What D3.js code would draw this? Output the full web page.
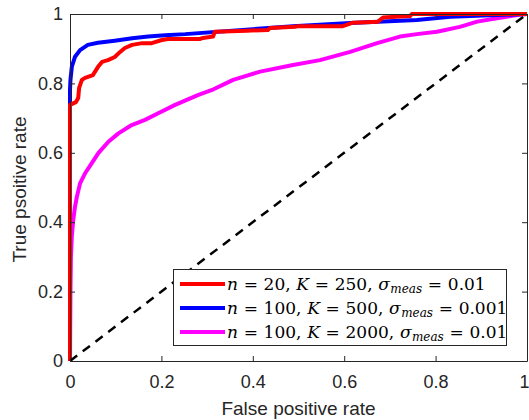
<!DOCTYPE html>
<html>
<head>
<meta charset="utf-8">
<script src="https://cdn.jsdelivr.net/npm/d3@7"></script>
<style>
body { margin: 0; background: #fff; }
text { font-family: "Liberation Sans", Arial, sans-serif; }
</style>
</head>
<body>
<script>
// ROC data: [false positive rate, true positive rate]
var redRoc = [[0,0],[0,0.738],[0.013,0.746],[0.018,0.758],[0.020,0.787],[0.026,0.81],[0.033,0.816],
  [0.050,0.824],[0.061,0.847],[0.070,0.862],[0.083,0.867],[0.098,0.876],[0.109,0.890],[0.120,0.902],
  [0.136,0.911],[0.158,0.916],[0.179,0.916],[0.186,0.919],[0.201,0.925],[0.214,0.928],[0.284,0.928],
  [0.291,0.931],[0.313,0.935],[0.317,0.949],[0.387,0.952],[0.433,0.954],[0.438,0.960],[0.492,0.963],
  [0.499,0.965],[0.597,0.965],[0.619,0.975],[0.674,0.978],[0.685,0.99],[0.744,0.994],[0.748,1],[1,1]];
var blueRoc = [[0,0],[0,0.781],[0.001,0.81],[0.004,0.848],[0.011,0.877],[0.022,0.896],[0.039,0.911],
  [0.061,0.917],[0.098,0.923],[0.136,0.930],[0.171,0.935],[0.208,0.939],[0.252,0.942],[0.488,0.965],
  [0.613,0.974],[0.759,0.983],[0.832,0.992],[1,1]];
var magentaRoc = [[0,0],[0.001,0.2],[0.002,0.3],[0.004,0.36],[0.007,0.406],[0.011,0.445],[0.015,0.473],
  [0.022,0.512],[0.033,0.541],[0.047,0.569],[0.062,0.599],[0.084,0.632],[0.106,0.656],[0.135,0.680],
  [0.164,0.695],[0.193,0.714],[0.230,0.738],[0.281,0.767],[0.314,0.783],[0.357,0.810],[0.416,0.834],
  [0.488,0.853],[0.547,0.867],[0.613,0.891],[0.672,0.916],[0.722,0.935],[0.759,0.942],[0.803,0.949],
  [0.853,0.963],[0.891,0.978],[0.934,0.988],[0.978,0.997],[1,1]];
var chance = [[0,0],[1,1]];

var tickValues = [0, 0.2, 0.4, 0.6, 0.8, 1];
var tickLabels = ['0', '0.2', '0.4', '0.6', '0.8', '1'];

// legend entries
var legendColors = ['#ff0000', '#0000ff', '#ff00ff'];
var legendN = ['20', '100', '100'];
var legendK = ['250', '500', '2000'];
var legendSigma = ['0.01', '0.001', '0.01'];

var W = 529, H = 420;
var svg = d3.select('body').append('svg').attr('width', W).attr('height', H);

// note: "top" is taken by window.top, so use other names
var axLeft = 70, axRight = 527, axTop = 14, axBottom = 361;
var x = d3.scaleLinear().domain([0, 1]).range([axLeft, axRight]);
var y = d3.scaleLinear().domain([0, 1]).range([axBottom, axTop]);

var axisColor = '#262626';

// curves
var line = d3.line().x(function(d){ return x(d[0]); }).y(function(d){ return y(d[1]); });
var plotArea = svg.append('g');
plotArea.append('path').datum(magentaRoc).attr('d', line)
  .attr('fill', 'none').attr('stroke', legendColors[2]).attr('stroke-width', 4).attr('stroke-linejoin', 'round');
plotArea.append('path').datum(blueRoc).attr('d', line)
  .attr('fill', 'none').attr('stroke', legendColors[1]).attr('stroke-width', 4).attr('stroke-linejoin', 'round');
plotArea.append('path').datum(redRoc).attr('d', line)
  .attr('fill', 'none').attr('stroke', legendColors[0]).attr('stroke-width', 4).attr('stroke-linejoin', 'round');
plotArea.append('path').datum(chance).attr('d', line)
  .attr('fill', 'none').attr('stroke', '#000').attr('stroke-width', 2.5).attr('stroke-dasharray', '9,7');

// box + axes (MATLAB style, ticks inside)
var fmt = function(d, i){ return tickLabels[i]; };
var xAxis = svg.append('g').attr('transform', 'translate(0,' + axBottom + ')')
  .call(d3.axisBottom(x).tickValues(tickValues).tickFormat(fmt).tickSizeInner(-5).tickSizeOuter(0).tickPadding(14));
var xAxisTop = svg.append('g').attr('transform', 'translate(0,' + axTop + ')')
  .call(d3.axisTop(x).tickValues(tickValues).tickFormat('').tickSizeInner(-5).tickSizeOuter(0));
var yAxis = svg.append('g').attr('transform', 'translate(' + axLeft + ',0)')
  .call(d3.axisLeft(y).tickValues(tickValues).tickFormat(fmt).tickSizeInner(-5).tickSizeOuter(0).tickPadding(7));
var yAxisRight = svg.append('g').attr('transform', 'translate(' + axRight + ',0)')
  .call(d3.axisRight(y).tickValues(tickValues).tickFormat('').tickSizeInner(-5).tickSizeOuter(0));

[xAxis, xAxisTop, yAxis, yAxisRight].forEach(function(g){
  g.select('.domain').attr('stroke', axisColor).attr('stroke-width', 1);
  g.selectAll('.tick line').attr('stroke', axisColor).attr('stroke-width', 1);
  g.selectAll('.tick text').attr('fill', axisColor).attr('font-size', 18)
    .style('font-family', '"Liberation Sans", Arial, sans-serif');
});
// last x label would fall off the page edge, keep it inside like the figure
xAxis.selectAll('.tick text').filter(function(d){ return d === 1; })
  .attr('text-anchor', 'end').attr('x', 2);

// axis titles
svg.append('text').attr('x', (axLeft + axRight) / 2).attr('y', 415)
  .attr('text-anchor', 'middle').attr('fill', axisColor).attr('font-size', 19)
  .text('False positive rate');
svg.append('text').attr('transform', 'translate(26,' + ((axTop + axBottom) / 2 + 2) + ') rotate(-90)')
  .attr('text-anchor', 'middle').attr('fill', axisColor).attr('font-size', 19)
  .text('True psoitive rate');

// legend
var lg = svg.append('g');
lg.append('rect').attr('x', 173.5).attr('y', 269.5).attr('width', 333).attr('height', 76)
  .attr('fill', '#fff').attr('stroke', axisColor).attr('stroke-width', 1);

var rows = legendColors.map(function(c, i){
  return {color: c, n: legendN[i], K: legendK[i], s: legendSigma[i]};
});
var row = lg.selectAll('g.row').data(rows).enter().append('g')
  .attr('class', 'row')
  .attr('transform', function(d, i){ return 'translate(0,' + (284 + i * 24) + ')'; });
row.append('line').attr('x1', 180).attr('x2', 225).attr('y1', 0).attr('y2', 0)
  .attr('stroke', function(d){ return d.color; }).attr('stroke-width', 4);

// TeX-like label, built piece by piece with a fixed gap between pieces
var gap = 5.7;
var t = row.append('text').attr('x', 227).attr('y', 6)
  .style('font-family', '"DejaVu Serif", serif').attr('font-size', 17).attr('fill', '#000');
t.each(function(d){
  var el = d3.select(this);
  var parts = [
    {s: 'n', it: true, dx: 0}, {s: '=', dx: gap}, {s: d.n + ',', dx: gap},
    {s: 'K', it: true, dx: gap}, {s: '=', dx: gap}, {s: d.K + ',', dx: gap},
    {s: '\u03c3', it: true, dx: gap}, {s: 'meas', it: true, sub: true, dx: 0.5},
    {s: '=', dx: gap, dy: -3}, {s: d.s, dx: gap}
  ];
  parts.forEach(function(p){
    var ts = el.append('tspan').text(p.s).attr('dx', p.dx);
    if (p.it) ts.attr('font-style', 'italic');
    if (p.sub) ts.attr('font-size', 12).attr('dy', 3);
    if (p.dy) ts.attr('dy', p.dy);
  });
});
</script>
</body>
</html>
